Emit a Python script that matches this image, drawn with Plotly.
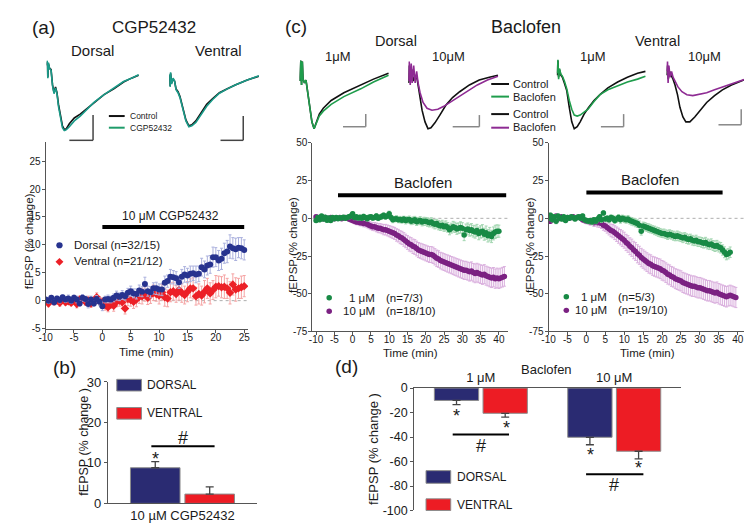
import plotly.graph_objects as go

W, H = 752, 527


def PX(x):
    return x / W


def PY(y):
    return 1 - y / H


def dom_x(a, b):
    return [a / W, b / W]


def dom_y(top, bot):
    return [1 - bot / H, 1 - top / H]


FONT = "Arial, Liberation Sans, Helvetica, sans-serif"
INK = "#1a1a1a"
AXIS = "#555555"

TR_BLACK = "#111111"
TR_TEAL = "#1a9a88"
TR_GREEN = "#1f9d4c"
TR_PURPLE = "#8e2b93"
DOT_NAVY = "#27338f"
DOT_RED = "#ec2027"
DOT_GREEN = "#188a45"
DOT_PURPLE = "#7b2182"
ERR_NAVY = "#aab0dd"
ERR_RED = "#f5a3a3"
ERR_GREEN = "#a3d6b1"
ERR_PURPLE = "#dab0de"
BAR_NAVY = "#2a2b72"
BAR_RED = "#ed1c24"

# ---------------- (a) example traces (ms, mV) ----------------
A_DOR_T = [0, 0.16, 0.32, 0.47, 0.79, 1.18, 1.58, 1.97, 2.37, 2.76, 3.16, 3.68, 4.21,
           4.74, 5.26, 6.05, 7.37, 8.95, 10.5, 12.6, 15.3, 17.9, 20.5, 22.6, 24.5]
A_DOR_CTRL = [-0.14, -0.06, -0.38, -0.10, -0.20, -0.22, -0.54, -0.70, -0.58, -0.70, -0.94,
              -1.18, -1.38, -1.46, -1.44, -1.34, -1.22, -1.14, -1.04, -0.90, -0.74, -0.62,
              -0.48, -0.40, -0.34]
A_DOR_CGP = [-0.12, -0.04, -0.40, -0.08, -0.20, -0.24, -0.56, -0.72, -0.60, -0.72, -0.98,
             -1.24, -1.42, -1.48, -1.46, -1.40, -1.28, -1.18, -1.06, -0.90, -0.74, -0.60,
             -0.47, -0.40, -0.33]
A_VEN_T = [0.13, 0.26, 0.39, 0.66, 1.05, 1.45, 1.84, 2.37, 2.89, 3.68, 4.47, 5.26, 6.05,
           7.11, 8.42, 10.0, 11.6, 13.4, 15.5, 17.6, 20.8, 23.9]
A_VEN_CTRL = [-0.34, -0.56, -0.30, -0.50, -0.42, -0.46, -0.62, -0.68, -0.78, -1.04, -1.26,
              -1.38, -1.36, -1.28, -1.12, -0.94, -0.82, -0.70, -0.62, -0.54, -0.44, -0.36]
A_VEN_CGP = [-0.32, -0.58, -0.28, -0.52, -0.40, -0.46, -0.64, -0.70, -0.80, -1.06, -1.28,
             -1.40, -1.38, -1.31, -1.16, -0.98, -0.84, -0.71, -0.62, -0.54, -0.44, -0.35]

# ---------------- (c) example traces (ms, mV) ----------------
CD1_T = [0, 0.16, 0.34, 0.53, 0.74, 0.92, 1.32, 1.71, 2.24, 2.76, 3.29, 3.87, 4.47, 5.26,
         6.32, 8.42, 11.8, 16.3, 19.7, 23.7]
CD1_CTRL = [-0.46, -0.30, -0.04, -0.54, -0.06, -0.42, -0.50, -0.44, -0.70, -1.04, -1.30,
            -1.44, -1.30, -1.14, -1.02, -0.86, -0.70, -0.54, -0.42, -0.30]
CD1_BAC = [-0.46, -0.30, -0.04, -0.54, -0.06, -0.42, -0.50, -0.44, -0.70, -1.04, -1.30,
           -1.44, -1.32, -1.18, -1.08, -0.94, -0.78, -0.62, -0.48, -0.34]

CD10_CTRL_T = [0.13, 0.26, 0.53, 0.92, 1.32, 1.84, 2.37, 2.89, 3.68, 4.47, 5.26, 6.05, 7.11,
               8.42, 10.0, 11.8, 13.7, 16.3, 18.9, 21.6, 23.9]
CD10_CTRL = [-0.50, -0.14, -0.46, -0.22, -0.46, -0.34, -0.42, -0.70, -1.06, -1.30, -1.44,
             -1.42, -1.32, -1.16, -0.96, -0.80, -0.68, -0.54, -0.44, -0.38, -0.34]
CD10_BAC_T = [0.13, 0.26, 0.53, 0.79, 1.05, 1.45, 1.84, 2.24, 2.63, 3.16, 3.95, 5.0, 6.32,
              7.89, 9.47, 11.1, 13.2, 15.8, 18.4, 21.1, 23.9]
CD10_BAC = [-0.46, -0.06, -0.54, -0.10, -0.50, -0.14, -0.50, -0.26, -0.50, -0.70, -0.90,
            -1.02, -1.06, -1.04, -0.98, -0.90, -0.80, -0.66, -0.54, -0.44, -0.36]

CV1_T = [0.26, 0.39, 0.58, 0.79, 1.18, 1.58, 2.11, 2.76, 3.42, 4.08, 4.74, 5.53, 6.32, 7.37,
         8.42, 10.0, 11.6, 13.7, 16.3, 18.9, 21.6, 23.7]
CV1_CTRL = [-0.34, -0.04, -0.38, -0.22, -0.34, -0.38, -0.50, -0.66, -1.00, -1.30, -1.44,
            -1.40, -1.30, -1.14, -1.02, -0.86, -0.74, -0.60, -0.48, -0.38, -0.30, -0.26]
CV1_BAC = [-0.30, -0.02, -0.42, -0.20, -0.32, -0.36, -0.46, -0.62, -0.86, -1.04, -1.16,
           -1.18, -1.16, -1.10, -1.04, -0.88, -0.74, -0.64, -0.56, -0.48, -0.42, -0.36]

CV10_CTRL_T = [0.26, 0.39, 0.58, 0.92, 1.32, 1.84, 2.37, 3.03, 3.68, 4.47, 5.26, 6.32, 7.63,
               9.21, 10.8, 12.9, 15.0, 17.4, 19.7, 21.8, 23.7]
CV10_CTRL = [-0.34, -0.14, -0.42, -0.26, -0.34, -0.42, -0.54, -0.74, -1.00, -1.20, -1.30,
             -1.30, -1.20, -1.04, -0.90, -0.76, -0.64, -0.54, -0.46, -0.40, -0.36]
CV10_BAC_T = [0.26, 0.37, 0.53, 0.74, 1.05, 1.45, 1.84, 2.37, 3.16, 4.21, 5.53, 7.11, 8.68,
              10.8, 12.9, 15.0, 17.4, 19.7, 21.8, 23.7]
CV10_BAC = [-0.26, -0.06, -0.50, -0.14, -0.38, -0.26, -0.38, -0.46, -0.58, -0.68, -0.74,
            -0.76, -0.74, -0.70, -0.64, -0.58, -0.52, -0.46, -0.40, -0.36]

# ---------------- (a) time course ----------------
TIME_A = [-10, -9.5, -9, -8.5, -8, -7.5, -7, -6.5, -6, -5.5, -5, -4.5, -4, -3.5, -3, -2.5,
          -2, -1.5, -1, -0.5, 0, 0.5, 1, 1.5, 2, 2.5, 3, 3.5, 4, 4.5, 5, 5.5, 6, 6.5, 7,
          7.5, 8, 8.5, 9, 9.5, 10, 10.5, 11, 11.5, 12, 12.5, 13, 13.5, 14, 14.5, 15, 15.5,
          16, 16.5, 17, 17.5, 18, 18.5, 19, 19.5, 20, 20.5, 21, 21.5, 22, 22.5, 23, 23.5,
          24, 24.5, 25]
A_DORSAL = [0.2, 0.0, 0.5, -0.3, 0.4, 0.1, 0.6, 0.2, 0.4, 0.0,
            0.5, 0.2, -0.5, 0.5, 0.3, -0.6, 0.2, -0.5, 0.3, -0.2,
            -1.0, 0.2, 0.3, 0.2, 0.5, 0.9, 0.7, 1.0, 0.8, 1.4,
            1.7, 1.3, 1.2, 1.8, 1.6, 3.0, 1.7, 1.5, 2.2, 2.2,
            2.0, 2.0, 3.2, 3.5, 4.3, 4.2, 4.0, 3.3, 4.3, 4.7,
            4.5, 4.8, 4.9, 4.7, 4.8, 6.0, 5.6, 6.3, 6.5, 7.8,
            7.8, 7.2, 7.5, 8.5, 8.8, 9.7, 9.4, 9.2, 9.5, 9.4, 9.1]
A_DORSAL_SEM = [0.4, 0.5, 0.4, 0.5, 0.4, 0.5, 0.4, 0.5, 0.6, 0.5,
                0.5, 0.6, 0.5, 0.6, 0.5, 0.7, 0.6, 0.5, 0.6, 0.7,
                0.8, 0.6, 0.7, 0.6, 0.7, 0.8, 0.7, 0.8, 0.7, 0.8,
                0.9, 0.8, 0.9, 1.0, 0.9, 1.2, 0.9, 1.0, 1.0, 1.1,
                1.0, 1.1, 1.2, 1.1, 1.3, 1.2, 1.2, 1.1, 1.3, 1.4,
                1.3, 1.4, 1.3, 1.5, 1.4, 1.6, 1.5, 1.7, 1.6, 1.8,
                1.7, 1.8, 1.9, 1.8, 2.0, 2.1, 1.9, 2.0, 1.8, 1.9, 1.8]
A_VENTRAL = [0.0, -0.5, 0.3, -0.2, 0.0, -0.4, 0.2, -0.3, -0.1, -0.4,
             0.3, -0.6, 0.2, 0.3, -0.2, 0.0, -0.5, -0.3, 0.6, 0.0,
             -0.3, -0.8, -1.2, -0.5, -0.9, -0.2, 0.0, -0.3, -1.4, 0.3,
             0.1, -0.2, 0.2, 0.7, 0.8, 1.2, 0.5, 1.0, 1.4, 1.2,
             0.9, 1.5, 0.6, 0.4, 1.5, 1.7, 1.2, 1.9, 1.4, 1.0,
             1.6, 2.2, 2.2, 0.8, 1.2, 0.9, 1.6, 2.2, 1.3, 1.9,
             2.5, 2.6, 2.4, 2.5, 2.2, 1.4, 2.9, 2.0, 2.2, 2.4, 2.6]
A_VENTRAL_SEM = [0.5, 0.6, 0.5, 0.6, 0.5, 0.6, 0.7, 0.5, 0.6, 0.5,
                 0.6, 0.7, 0.6, 0.7, 0.6, 0.8, 0.7, 0.6, 0.8, 0.7,
                 0.8, 0.9, 0.8, 0.9, 1.0, 0.9, 1.0, 1.1, 1.0, 1.2,
                 1.1, 1.2, 1.3, 1.2, 1.4, 1.3, 1.2, 1.5, 1.4, 1.3,
                 1.5, 1.4, 1.6, 1.5, 1.7, 1.6, 1.5, 1.8, 1.7, 1.6,
                 1.8, 1.7, 1.9, 1.6, 1.8, 1.7, 2.0, 1.8, 1.9, 1.7,
                 2.0, 1.8, 1.9, 2.1, 1.8, 2.0, 1.9, 2.1, 1.8, 2.0, 1.9]
A_DRUG_ON, A_DRUG_OFF, A_DRUG_BAR_Y = 0, 25, 13.2

# ---------------- (c) time courses ----------------
TIME_C = TIME_A + [25.5, 26, 26.5, 27, 27.5, 28, 28.5, 29, 29.5, 30, 30.5, 31, 31.5, 32,
                   32.5, 33, 33.5, 34, 34.5, 35, 35.5, 36, 36.5, 37, 37.5, 38, 38.5, 39,
                   39.5, 40, 40.5, 41, 41.5]
CL_GREEN = [-1.5, 0.5, -1.0, 1.5, -0.5, 0.8, -1.2, 0.3, -1.5, 0.5,
            -0.2, 0.6, -0.3, 0.4, 0.2, 0.8, 0.0, 0.5, 1.0, 1.5,
            3.0, 0.5, 1.0, 0.2, 0.8, 0.0, 1.2, 0.5, -0.2, 0.8,
            1.0, 0.3, 0.6, 1.5, 0.0, 0.8, 1.2, 2.0, 1.0, 1.5,
            3.0, 0.5, -1.0, -0.5, -0.2, -1.0, -0.8, -1.2, -0.5, -1.5,
            -1.0, -0.8, -2.0, -1.5, -1.0, -2.2, -1.8, -1.5, -2.5, -2.0,
            -2.0, -2.5, -3.0, -2.5, -3.5, -4.0, -3.5, -4.5, -5.0, -4.5,
            -5.5, -5.0, -6.0, -7.5, -6.5, -5.5, -6.0, -7.0, -6.5, -6.0,
            -6.5, -11.0, -7.5, -7.0, -8.0, -7.5, -8.5, -9.0, -8.0, -10.0,
            -9.0, -8.5, -10.5, -9.5, -11.5, -10.5, -12.0, -10.0, -9.0, -8.5,
            -8.5]
CL_GREEN_SEM = [1.2, 1.0, 1.3, 1.1, 1.2, 1.0, 1.3, 1.1, 1.2, 1.0,
                1.1, 1.2, 1.0, 1.3, 1.1, 1.2, 1.0, 1.1, 1.3, 1.2,
                1.3, 1.4, 1.2, 1.5, 1.3, 1.4, 1.5, 1.3, 1.6, 1.4,
                1.5, 1.6, 1.4, 1.7, 1.5, 1.6, 1.8, 1.6, 1.7, 1.5,
                1.8, 1.7, 1.9, 1.8, 2.0, 1.9, 2.1, 2.0, 1.9, 2.2,
                2.1, 2.3, 2.2, 2.4, 2.3, 2.5, 2.4, 2.6, 2.5, 2.7,
                2.6, 2.8, 2.7, 2.9, 2.8, 3.0, 2.9, 3.1, 3.0, 3.2,
                3.1, 3.3, 3.2, 3.4, 3.3, 3.5, 3.4, 3.6, 3.5, 3.7,
                3.6, 3.8, 3.7, 3.9, 3.8, 4.0, 3.9, 4.1, 4.0, 4.2,
                4.1, 4.3, 4.0, 4.4, 4.2, 4.5, 4.1, 4.3, 4.4, 4.2,
                4.0]
CL_PURPLE = [1.0, 0.5, 0.0, 0.8, -0.5, 0.5, 0.0, -0.5, 0.5, 0.0,
             -0.3, 0.2, 0.0, 0.5, -0.2, 0.3, 0.5, 0.0, -0.5, -1.0,
             -1.5, -2.0, -2.5, -2.5, -3.0, -3.0, -3.5, -3.5, -4.0, -4.5,
             -5.0, -5.5, -5.5, -6.0, -6.5, -6.5, -7.0, -7.5, -7.5, -8.0,
             -8.5, -9.0, -9.5, -10.0, -11.0, -11.5, -12.5, -13.0, -14.0, -15.0,
             -16.0, -17.0, -17.5, -18.5, -19.0, -20.0, -21.0, -21.5, -22.0, -22.5,
             -23.0, -23.5, -24.0, -24.0, -24.5, -25.5, -26.5, -27.0, -28.0, -28.5,
             -29.0, -29.5, -30.0, -30.5, -31.0, -31.5, -32.0, -32.5, -33.0, -33.5,
             -34.0, -34.5, -34.5, -35.0, -35.5, -35.0, -36.0, -36.5, -36.0, -36.5,
             -37.0, -37.5, -37.0, -38.0, -38.5, -39.0, -39.5, -39.0, -40.0, -39.5,
             -40.0, -39.5, -39.0, -38.5]
CL_PURPLE_SEM = [1.0, 0.9, 1.1, 1.0, 0.9, 1.1, 1.0, 0.9, 1.0, 1.1,
                 1.0, 1.1, 1.2, 1.0, 1.1, 1.2, 1.3, 1.2, 1.4, 1.3,
                 1.5, 1.6, 1.7, 1.8, 1.9, 2.0, 2.1, 2.2, 2.3, 2.4,
                 2.5, 2.6, 2.7, 2.9, 3.0, 3.1, 3.2, 3.4, 3.5, 3.6,
                 3.7, 3.8, 3.9, 4.0, 4.1, 4.2, 4.3, 4.4, 4.5, 4.5,
                 4.6, 4.7, 4.7, 4.8, 4.9, 4.9, 5.0, 5.0, 5.1, 5.1,
                 5.2, 5.2, 5.3, 5.3, 5.4, 5.4, 5.5, 5.5, 5.5, 5.6,
                 5.6, 5.6, 5.7, 5.7, 5.7, 5.8, 5.8, 5.8, 5.9, 5.9,
                 5.9, 6.0, 6.0, 6.0, 6.1, 6.1, 6.1, 6.2, 6.2, 6.2,
                 6.2, 6.3, 6.3, 6.3, 6.3, 6.4, 6.4, 6.4, 6.4, 6.5,
                 6.5, 6.5, 6.5, 6.5]
CR_GREEN = [0.0, 2.0, -1.0, 1.0, -2.0, 1.5, 0.0, -0.5, 1.0, -1.5,
            0.5, 0.0, 1.0, 0.5, -0.5, 0.5, 1.0, 0.0, 1.5, -1.0,
            -1.5, -2.0, -1.5, -2.5, -1.0, -2.0, -0.5, 1.0, -1.0, 3.5,
            -0.5, 0.0, -1.0, 0.5, 0.0, -1.5, -0.5, 0.5, -1.0, 0.0,
            -0.5, -1.0, -0.5, -1.5, -2.0, -2.5, -3.0, -3.5, -4.5, -8.5,
            -5.0, -5.5, -6.0, -6.5, -7.0, -7.5, -8.0, -8.5, -9.0, -9.5,
            -10.0, -10.0, -10.5, -11.0, -10.5, -11.0, -11.5, -12.0, -11.5, -12.0,
            -12.5, -13.0, -12.5, -13.5, -14.0, -13.5, -14.5, -15.0, -14.5, -15.5,
            -15.5, -16.0, -16.5, -16.0, -17.0, -17.5, -17.0, -18.0, -18.5, -18.0,
            -19.0, -19.5, -21.0, -22.5, -24.0, -23.5, -22.5]
CR_GREEN_SEM = [1.2, 1.5, 1.3, 1.4, 1.6, 1.3, 1.2, 1.4, 1.5, 1.3,
                1.2, 1.3, 1.1, 1.4, 1.2, 1.3, 1.5, 1.2, 1.4, 1.3,
                1.5, 1.6, 1.4, 1.7, 1.5, 1.6, 1.8, 1.5, 1.7, 1.6,
                1.8, 1.7, 1.9, 1.8, 2.0, 1.9, 2.1, 2.0, 2.2, 2.1,
                2.3, 2.2, 2.4, 2.3, 2.5, 2.4, 2.6, 2.5, 2.7, 2.6,
                2.5, 2.7, 2.6, 2.8, 2.7, 2.6, 2.8, 2.7, 2.9, 2.8,
                2.7, 2.9, 2.8, 3.0, 2.9, 2.8, 3.0, 2.9, 3.1, 3.0,
                2.9, 3.1, 3.0, 3.2, 3.1, 3.0, 3.2, 3.1, 3.3, 3.2,
                3.1, 3.3, 3.2, 3.4, 3.3, 3.2, 3.4, 3.3, 3.5, 3.4,
                3.3, 3.5, 3.4, 3.6, 3.5, 3.4, 3.5]
CR_PURPLE = [0.5, -2.0, 1.0, 0.0, 1.5, -0.5, 0.5, 1.0, 0.0, -0.5,
             0.5, 0.0, 0.5, 1.0, 0.0, 0.5, 1.0, 0.0, -1.0, -1.5,
             -2.0, -2.0, -2.5, -2.0, -3.0, -2.5, -3.0, -3.0, -3.5, -4.5,
             -5.0, -6.0, -7.0, -8.0, -8.5, -9.5, -10.5, -11.5, -12.5, -13.5,
             -14.5, -16.0, -17.0, -18.5, -19.5, -21.0, -22.0, -23.5, -24.5, -26.0,
             -27.0, -28.0, -29.0, -30.0, -30.5, -31.5, -32.0, -32.5, -33.0, -33.5,
             -34.5, -35.0, -36.0, -37.0, -37.5, -38.5, -39.0, -40.0, -40.5, -41.0,
             -41.5, -42.5, -43.0, -43.5, -44.0, -44.5, -45.0, -45.0, -45.5, -46.0,
             -46.0, -46.5, -47.0, -47.5, -48.0, -48.0, -48.5, -49.0, -49.5, -49.0,
             -50.0, -50.5, -51.0, -51.5, -52.0, -51.5, -51.0, -51.5, -52.0, -52.5]
CR_PURPLE_SEM = [1.0, 1.2, 1.1, 1.0, 1.2, 1.1, 1.0, 1.1, 1.2, 1.0,
                 1.1, 1.0, 1.2, 1.1, 1.0, 1.2, 1.1, 1.3, 1.4, 1.5,
                 1.6, 1.8, 2.0, 2.2, 2.4, 2.6, 2.8, 3.0, 3.2, 3.4,
                 3.6, 3.8, 4.0, 4.2, 4.4, 4.6, 4.8, 5.0, 5.1, 5.2,
                 5.3, 5.4, 5.5, 5.6, 5.7, 5.8, 5.9, 6.0, 6.0, 6.1,
                 6.1, 6.2, 6.2, 6.3, 6.3, 6.3, 6.4, 6.4, 6.4, 6.5,
                 6.5, 6.5, 6.5, 6.6, 6.6, 6.6, 6.6, 6.6, 6.7, 6.7,
                 6.7, 6.7, 6.7, 6.7, 6.7, 6.8, 6.8, 6.8, 6.8, 6.8,
                 6.8, 6.8, 6.8, 6.8, 6.8, 6.8, 6.8, 6.8, 6.8, 6.8,
                 6.8, 6.8, 6.8, 6.8, 6.8, 6.7, 6.7, 6.7, 6.7, 6.7]
CL_DRUG_ON, CL_DRUG_OFF, CL_DRUG_BAR_Y = -4, 42, 15.3
CR_DRUG_ON, CR_DRUG_OFF, CR_DRUG_BAR_Y = 0, 36, 17.2

# ---------------- bar charts ----------------
B_GROUP = ["10 µM CGP52432"]
B_DORSAL, B_DORSAL_SEM = [8.8], [1.5]
B_VENTRAL, B_VENTRAL_SEM = [2.3], [1.8]

D_GROUPS = ["1 μM", "10 μM"]
D_DORSAL, D_DORSAL_SEM = [-10.1, -40.2], [3.4, 6.1]
D_VENTRAL, D_VENTRAL_SEM = [-20.6, -51.6], [3.2, 6.3]

A_XTICKS = [-10, -5, 0, 5, 10, 15, 20, 25]
A_YTICKS = [-5, 0, 5, 10, 15, 20, 25]
C_XTICKS = [-10, -5, 0, 5, 10, 15, 20, 25, 30, 35, 40]
C_YTICKS = [-75, -50, -25, 0, 25, 50]
B_YTICKS = [0, 10, 20, 30]
D_YTICKS = [0, -20, -40, -60, -80, -100]

fig = go.Figure()


def ax(n):
    return ("x" if n == 1 else f"x{n}"), ("y" if n == 1 else f"y{n}")


def lay(n):
    return ("xaxis" if n == 1 else f"xaxis{n}"), ("yaxis" if n == 1 else f"yaxis{n}")


def line_trace(n, x, y, color, width=1.6):
    xa, ya = ax(n)
    fig.add_trace(go.Scatter(x=x, y=y, mode="lines", line=dict(color=color, width=width),
                             xaxis=xa, yaxis=ya, hoverinfo="skip"))


# sample traces
line_trace(1, A_DOR_T, A_DOR_CTRL, TR_BLACK)
line_trace(1, A_DOR_T, A_DOR_CGP, TR_TEAL)
line_trace(2, A_VEN_T, A_VEN_CTRL, TR_BLACK)
line_trace(2, A_VEN_T, A_VEN_CGP, TR_TEAL)
line_trace(5, CD1_T, CD1_CTRL, TR_BLACK)
line_trace(5, CD1_T, CD1_BAC, TR_GREEN)
line_trace(6, CD10_CTRL_T, CD10_CTRL, TR_BLACK)
line_trace(6, CD10_BAC_T, CD10_BAC, TR_PURPLE)
line_trace(7, CV1_T, CV1_CTRL, TR_BLACK)
line_trace(7, CV1_T, CV1_BAC, TR_GREEN)
line_trace(8, CV10_CTRL_T, CV10_CTRL, TR_BLACK)
line_trace(8, CV10_BAC_T, CV10_BAC, TR_PURPLE)


def dots(n, x, y, err, color, ecolor, symbol="circle", size=5.5):
    xa, ya = ax(n)
    fig.add_trace(go.Scatter(
        x=x, y=y, mode="markers", xaxis=xa, yaxis=ya,
        marker=dict(color=color, size=size, symbol=symbol, line=dict(width=0)),
        error_y=dict(type="data", array=err, color=ecolor, thickness=1, width=1.5)))


# drug bars (time courses)
line_trace(3, [A_DRUG_ON, A_DRUG_OFF], [A_DRUG_BAR_Y, A_DRUG_BAR_Y], "#000000", 4)
line_trace(9, [CL_DRUG_ON, CL_DRUG_OFF], [CL_DRUG_BAR_Y, CL_DRUG_BAR_Y], "#000000", 4)
line_trace(10, [CR_DRUG_ON, CR_DRUG_OFF], [CR_DRUG_BAR_Y, CR_DRUG_BAR_Y], "#000000", 4)

dots(3, TIME_A, A_VENTRAL, A_VENTRAL_SEM, DOT_RED, ERR_RED, "diamond", 6.5)
dots(3, TIME_A, A_DORSAL, A_DORSAL_SEM, DOT_NAVY, ERR_NAVY, "circle", 6)
dots(9, TIME_C[:len(CL_PURPLE)], CL_PURPLE, CL_PURPLE_SEM, DOT_PURPLE, ERR_PURPLE)
dots(9, TIME_C[:len(CL_GREEN)], CL_GREEN, CL_GREEN_SEM, DOT_GREEN, ERR_GREEN)
dots(10, TIME_C[:len(CR_PURPLE)], CR_PURPLE, CR_PURPLE_SEM, DOT_PURPLE, ERR_PURPLE)
dots(10, TIME_C[:len(CR_GREEN)], CR_GREEN, CR_GREEN_SEM, DOT_GREEN, ERR_GREEN)


def bars(n, x, y, err, color, down=False):
    xa, ya = ax(n)
    zeros = [0] * len(err)
    fig.add_trace(go.Bar(
        x=x, y=y, xaxis=xa, yaxis=ya,
        marker=dict(color=color, line=dict(color="#8c8c8c", width=1)),
        error_y=dict(type="data", symmetric=False,
                     array=zeros if down else err,
                     arrayminus=err if down else zeros,
                     color="#444444", thickness=1.3, width=4)))


bars(4, B_GROUP, B_DORSAL, B_DORSAL_SEM, BAR_NAVY)
bars(4, B_GROUP, B_VENTRAL, B_VENTRAL_SEM, BAR_RED)
bars(11, D_GROUPS, D_DORSAL, D_DORSAL_SEM, BAR_NAVY, down=True)
bars(11, D_GROUPS, D_VENTRAL, D_VENTRAL_SEM, BAR_RED, down=True)

layout = dict(
    width=W, height=H, margin=dict(l=0, r=0, t=0, b=0),
    paper_bgcolor="white", plot_bgcolor="rgba(0,0,0,0)",
    showlegend=False, barmode="group", bargap=0.27, bargroupgap=0.09,
    font=dict(family=FONT, color=INK),
)

# trace axes (hidden); 3.8 px per ms, 50 px per mV
for n, x0 in [(1, 32), (2, 156), (5, 288), (6, 398), (7, 548), (8, 659)]:
    lx, ly = lay(n)
    xa, ya = ax(n)
    x1 = min(x0 + 95, W)
    layout[lx] = dict(domain=dom_x(x0, x1), range=[0, (x1 - x0) / 3.8], visible=False, anchor=ya)
    layout[ly] = dict(domain=dom_y(45, 120), range=[-1.5, 0], visible=False, anchor=xa)


def num_axis(n, xdom, ydom, xr, yr, xt, yt, fsize):
    lx, ly = lay(n)
    xa, ya = ax(n)
    common = dict(showline=True, linecolor=AXIS, linewidth=1, ticks="outside", ticklen=3,
                  tickwidth=1, tickcolor=AXIS, showgrid=False, zeroline=False,
                  tickfont=dict(size=fsize, color=INK, family=FONT), tickmode="array")
    layout[lx] = dict(domain=xdom, range=xr, tickvals=xt, ticktext=[str(v) for v in xt],
                      anchor=ya, ticklabelstandoff=-4, **common)
    layout[ly] = dict(domain=ydom, range=yr, tickvals=yt, ticktext=[str(v) for v in yt],
                      anchor=xa, ticklabelstandoff=-1, **common)


num_axis(3, dom_x(31, 236), dom_y(131, 322.7), [-10, 25.7], [-5, 28.4], A_XTICKS, A_YTICKS, 10)
num_axis(9, dom_x(301, 499), dom_y(131.7, 325.7), [-11, 42.5], [-75, 50], C_XTICKS, C_YTICKS, 10)
num_axis(10, dom_x(540, 738), dom_y(131.7, 325.7), [-10, 41.7], [-75, 50], C_XTICKS, C_YTICKS, 10)

# bar chart axes
layout["xaxis4"] = dict(domain=dom_x(94, 245), type="category", range=[-0.5, 0.5], anchor="y4",
                        showline=True, linecolor=AXIS, linewidth=1, ticks="", showgrid=False,
                        tickfont=dict(size=13, color=INK, family=FONT))
layout["yaxis4"] = dict(domain=dom_y(377.7, 502.7), range=[0, 30], anchor="x4", tickmode="array",
                        tickvals=B_YTICKS, ticktext=[str(v) for v in B_YTICKS],
                        showline=True, linecolor=AXIS, linewidth=1, ticks="outside", ticklen=3,
                        tickcolor=AXIS, showgrid=False, zeroline=False,
                        tickfont=dict(size=13, color=INK, family=FONT))
layout["xaxis11"] = dict(domain=dom_x(404, 674), type="category", range=[-0.5, 1.5], anchor="y11",
                         side="top", showline=True, linecolor=AXIS, linewidth=1, ticks="",
                         showgrid=False, tickfont=dict(size=13, color=INK, family=FONT))
layout["yaxis11"] = dict(domain=dom_y(384, 510), range=[-100, 0], anchor="x11", tickmode="array",
                         tickvals=D_YTICKS, ticktext=[str(v) for v in D_YTICKS],
                         showline=True, linecolor=AXIS, linewidth=1, ticks="outside", ticklen=3,
                         tickcolor=AXIS, showgrid=False, zeroline=False,
                         tickfont=dict(size=12.5, color=INK, family=FONT))

# ---------------- annotations ----------------
anns = []


def T(text, x, y, size, xanchor="center", angle=0, color=INK):
    anns.append(dict(text=text, x=PX(x), y=PY(y), xref="paper", yref="paper", showarrow=False,
                     font=dict(size=size, color=color, family=FONT), xanchor=xanchor,
                     yanchor="middle", textangle=angle))


# panel letters and titles
T("(a)", 29, 13, 19)
T("(b)", 50, 363, 19)
T("(c)", 284, 12, 19)
T("(d)", 336, 362, 19)
T("CGP52432", 141, 13, 17)
T("Dorsal", 78, 37, 15)
T("Ventral", 206, 37, 15)
T("Baclofen", 517, 12, 18)
T("Dorsal", 386, 27, 14.5)
T("Ventral", 650, 27, 14.5)
T("1μM", 327, 43, 13)
T("10μM", 439, 43, 13)
T("1μM", 585, 43, 13)
T("10μM", 698, 43, 13)
# trace legends
T("Control", 114, 104, 8.5, "left")
T("CGP52432", 114, 116, 8.5, "left")
T("Control", 502, 71, 11, "left")
T("Baclofen", 502, 84, 11, "left")
T("Control", 502, 102, 11, "left")
T("Baclofen", 502, 115, 11, "left")
# (a) time course
T("10 μM CGP52432", 157, 207, 12)
T("Dorsal (n=32/15)", 58, 237, 11.5, "left")
T("Ventral (n=21/12)", 58, 253, 11.5, "left")
T("fEPSP (% change)", 15, 233, 11.5, "center", -90)
T("Time (min)", 133, 347, 11.5)
# (b)
T("fEPSP (% change )", 70, 440, 12.5, "center", -90)
T("DORSAL", 132, 381, 12, "left")
T("VENTRAL", 132, 410, 12, "left")
T("*", 142, 457, 18)
T("#", 170, 435, 18)
# (c) time courses
T("Baclofen", 413, 172, 15)
T("1 μM", 366, 291, 11.5, "right")
T("(n=7/3)", 373, 291, 11.5, "left")
T("10 μM", 366, 305, 11.5, "right")
T("(n=18/10)", 373, 305, 11.5, "left")
T("fEPSP (% change)", 282, 237, 11.5, "center", -90)
T("Time (min)", 400, 348, 11.5)
T("Baclofen", 643, 169, 15)
T("1 μM", 601, 290, 11.5, "right")
T("(n=5/3)", 608, 290, 11.5, "left")
T("10 μM", 601, 304, 11.5, "right")
T("(n=19/10)", 608, 304, 11.5, "left")
T("fEPSP (% change)", 522, 237, 11.5, "center", -90)
T("Time (min)", 640, 348, 11.5)
# (d)
T("Baclofen", 538, 365, 13)
T("fEPSP (% change )", 363, 447, 13, "center", -90)
T("DORSAL", 445, 476, 12, "left")
T("VENTRAL", 445, 504, 12, "left")
T("*", 447, 413, 18)
T("*", 497, 425, 18)
T("*", 582, 453, 18)
T("*", 631, 466, 18)
T("#", 472, 444, 18)
T("#", 606, 484, 18)

layout["annotations"] = anns

# ---------------- shapes ----------------
shapes = []


def L(x0, y0, x1, y1, color="#000000", width=1.5, dash="solid"):
    shapes.append(dict(type="line", xref="paper", yref="paper", x0=PX(x0), y0=PY(y0),
                       x1=PX(x1), y1=PY(y1), line=dict(color=color, width=width, dash=dash)))


def R(x0, y0, x1, y1, fill):
    shapes.append(dict(type="rect", xref="paper", yref="paper", x0=PX(x0), y0=PY(y1),
                       x1=PX(x1), y1=PY(y0), fillcolor=fill, line=dict(color="#8c8c8c", width=1)))


# scale bars
for (vx, vtop, hx0, hy, col) in [(79, 103, 55, 129, "#444444"), (231, 104, 208, 129, "#444444"),
                                 (355, 102, 332, 115, "#888888"), (470, 103, 443, 115, "#888888"),
                                 (616, 102, 593, 115, "#888888"), (735, 97, 712, 113, "#888888")]:
    L(vx, vtop, vx, hy, col, 1.5)
    L(hx0, hy, vx, hy, col, 1.5)

# trace legends lines
L(95, 104, 111, 104, TR_BLACK, 2)
L(95, 116, 111, 116, "#1f9c6a", 2)
L(482, 71, 500, 71, TR_BLACK, 2)
L(482, 84, 500, 84, TR_GREEN, 2)
L(482, 102, 500, 102, TR_BLACK, 2)
L(482, 116, 500, 116, TR_PURPLE, 2)

# zero reference lines on time courses
for n, xr in [(3, [-10, 25.7]), (9, [-11, 42.5]), (10, [-10, 41.7])]:
    xa, ya = ax(n)
    shapes.append(dict(type="line", xref=xa, yref=ya, x0=xr[0], x1=xr[1], y0=0, y1=0,
                       line=dict(color="#999999", width=0.8, dash="dot"), layer="below"))


def circ(cx, cy, r, color):
    shapes.append(dict(type="circle", xref="paper", yref="paper", x0=PX(cx - r), x1=PX(cx + r),
                       y0=PY(cy + r), y1=PY(cy - r), fillcolor=color, line=dict(width=0)))


circ(45, 237, 3.2, DOT_NAVY)
shapes.append(dict(type="path", xref="paper", yref="paper",
                   path=f"M {PX(45)},{PY(250)} L {PX(49)},{PY(254)} L {PX(45)},{PY(258)} "
                        f"L {PX(41)},{PY(254)} Z",
                   fillcolor=DOT_RED, line=dict(width=0)))
circ(318, 291, 2.8, DOT_GREEN)
circ(318, 305, 2.8, DOT_PURPLE)
circ(558, 290, 2.8, DOT_GREEN)
circ(558, 304, 2.8, DOT_PURPLE)

# bar legends
R(103, 375, 128, 387, BAR_NAVY)
R(103, 404, 128, 416, BAR_RED)
R(416, 469, 441, 482, BAR_NAVY)
R(416, 498, 441, 510, BAR_RED)

# significance lines
L(138, 444, 202, 444, "#000000", 2)
L(443, 431.7, 500, 431.7, "#000000", 2)
L(578, 472.7, 636, 472.7, "#000000", 2)

layout["shapes"] = shapes
fig.update_layout(**layout)

fig.write_html("out.html")
